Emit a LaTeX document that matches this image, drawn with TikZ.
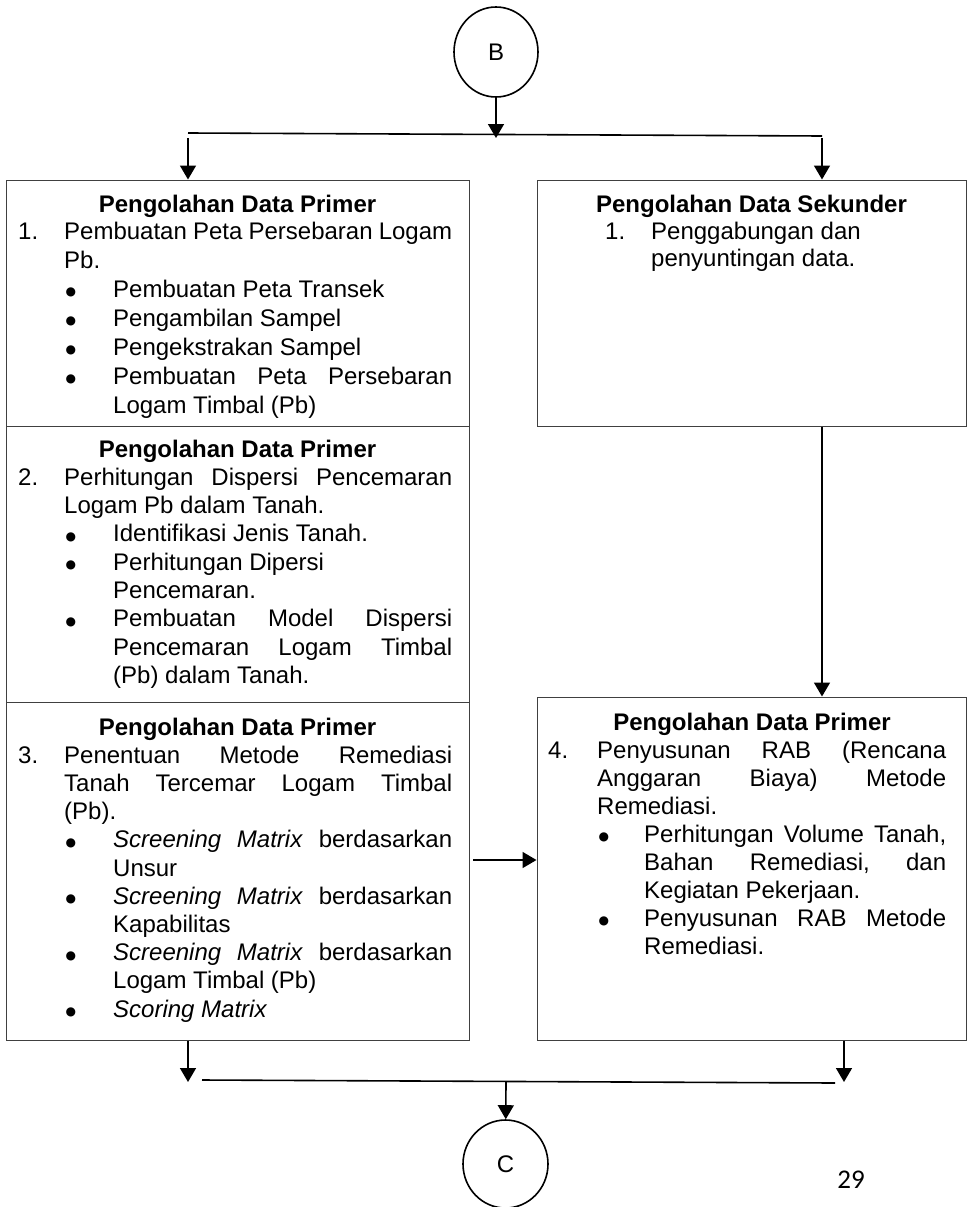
\documentclass[tikz,border=0pt]{standalone}
\usepackage{fontspec}
\setmainfont{Liberation Sans}
\newfontfamily\pagenumfont{Carlito}
\newfontfamily\symfont{DejaVu Sans}
\usetikzlibrary{arrows.meta,shapes.geometric}

% widths of the number column and of the bullet column
\newlength{\numw}
\newlength{\bulw}
\setlength{\numw}{46pt}
\setlength{\bulw}{49pt}

% justified paragraphs with stretchable word spaces and no hyphenation
\newcommand{\bodyset}[1]{\parindent=0pt\parskip=0pt\rightskip=0pt
  \parfillskip=0pt plus 1fil\hyphenpenalty=10000\exhyphenpenalty=10000
  \tolerance=10000\emergencystretch=0pt\frenchspacing
  \spaceskip=6.67pt plus 12pt minus 3pt\xspaceskip=\spaceskip
  \baselineskip=#1\relax}
\newcommand{\bul}{\hspace{1.5pt}{\symfont\fontsize{12}{14}\selectfont\raisebox{1.5pt}{●}}}
\newcommand{\numitem}[2]{\leftskip=0pt\hangindent=\numw\hangafter=1
  \noindent\rule{0pt}{20pt}\makebox[\numw][l]{#1}#2\par}
\newcommand{\bulitem}[1]{\leftskip=\numw\hangindent=\bulw\hangafter=1
  \noindent\rule{0pt}{20pt}\makebox[\bulw][l]{\bul}#1\par}

\tikzset{
  stage/.style={draw=black!75, line width=1pt, inner sep=0pt},
  connector/.style={draw=black, line width=1.6pt},
  flow/.style={connector, -{Triangle[width=16pt,length=14pt]}},
  joint/.style={ellipse, draw=black, line width=1.6pt, inner sep=0pt,
    font=\fontsize{24}{28}\selectfont},
  heading/.style={inner sep=0pt, anchor=base,
    font=\fontsize{24}{28}\selectfont\bfseries},
  body/.style={inner sep=0pt, anchor=north west, text width=#1,
    font=\fontsize{24}{28.3}\selectfont},
}

\begin{document}
\begin{tikzpicture}[x=1pt,y=-1pt]
\useasboundingbox (0,0) rectangle (972,1207);

% connector circles
\node[joint, minimum width=84pt, minimum height=90pt] (B) at (496,52) {B};
\node[joint, minimum width=85pt, minimum height=88pt] (C) at (505.5,1164) {C};

% process boxes
\node[stage, minimum width=463pt, minimum height=246pt] (L1) at (237.5,303) {};
\node[stage, minimum width=463pt, minimum height=276pt] (L2) at (237.5,564) {};
\node[stage, minimum width=463pt, minimum height=338pt] (L3) at (237.5,871) {};
\node[stage, minimum width=429pt, minimum height=246pt] (R1) at (751.5,303) {};
\node[stage, minimum width=429pt, minimum height=343pt] (R2) at (751.5,868.5) {};

% box 1
\node[heading] (h1) at (237.5,212) {Pengolahan Data Primer};
\node[body=434pt] (t1) at (18,219) {\bodyset{29pt}%
  \numitem{1.}{Pembuatan Peta Persebaran Logam\linebreak Pb.}%
  \bulitem{Pembuatan Peta Transek}%
  \bulitem{Pengambilan Sampel}%
  \bulitem{Pengekstrakan Sampel}%
  \bulitem{Pembuatan Peta Persebaran\linebreak Logam Timbal (Pb)}};

% box 2
\node[heading] (h2) at (237.5,457) {Pengolahan Data Primer};
\node[body=434pt] (t2) at (18,465) {\bodyset{28.3pt}%
  \numitem{2.}{Perhitungan Dispersi Pencemaran\linebreak Logam Pb dalam Tanah.}%
  \bulitem{Identifikasi Jenis Tanah.}%
  \bulitem{Perhitungan Dipersi\newline Pencemaran.}%
  \bulitem{Pembuatan Model Dispersi\linebreak Pencemaran Logam Timbal\linebreak (Pb) dalam Tanah.}};

% box 3
\node[heading] (h3) at (237.5,735) {Pengolahan Data Primer};
\node[body=434pt] (t3) at (18,743) {\bodyset{28.2pt}%
  \numitem{3.}{Penentuan Metode Remediasi\linebreak Tanah Tercemar Logam Timbal\linebreak (Pb).}%
  \bulitem{\textit{Screening Matrix} berdasarkan\linebreak Unsur}%
  \bulitem{\textit{Screening Matrix} berdasarkan\linebreak Kapabilitas}%
  \bulitem{\textit{Screening Matrix} berdasarkan\linebreak Logam Timbal (Pb)}%
  \bulitem{\textit{Scoring Matrix}}};

% secondary data box
\node[heading] (h4) at (751.5,212) {Pengolahan Data Sekunder};
\node[body=341pt] (t4) at (605,219) {\bodyset{27pt}%
  \numitem{1.}{Penggabungan dan\newline penyuntingan data.}};

% box 4
\node[heading] (h5) at (752,730) {Pengolahan Data Primer};
\node[body=398pt] (t5) at (548,738) {\bodyset{28pt}%
  \setlength{\numw}{49pt}\setlength{\bulw}{47pt}%
  \numitem{4.}{Penyusunan RAB (Rencana\linebreak Anggaran Biaya) Metode\linebreak Remediasi.}%
  \bulitem{Perhitungan Volume Tanah,\linebreak Bahan Remediasi, dan\linebreak Kegiatan Pekerjaan.}%
  \bulitem{Penyusunan RAB Metode\linebreak Remediasi.}};

% junction points
\coordinate (topL) at (188,133);
\coordinate (topR) at (822,136);
\coordinate (bjoin) at (496,138);
\coordinate (l1in) at (188,138);
\coordinate (r1in) at (822,138);
\coordinate (mid) at (473,860);
\coordinate (l3out) at (188,1082);
\coordinate (r2out) at (844,1082);
\coordinate (botL) at (202,1080);
\coordinate (botR) at (835,1083);
\coordinate (cin) at (506,1081);

% split below B
\draw[flow] (B) -- (bjoin);
\draw[connector] (topL) -- (topR);
\draw[flow] (l1in) -- (l1in |- L1.north);
\draw[flow] (r1in) -- (r1in |- R1.north);

% inner flows
\draw[flow] (R1.south -| r1in) -- (R2.north -| r1in);
\draw[flow] (mid) -- (mid -| R2.west);

% merge above C
\draw[flow] (L3.south -| l3out) -- (l3out);
\draw[flow] (R2.south -| r2out) -- (r2out);
\draw[connector] (botL) -- (botR);
\draw[flow] (cin) -- (C);

% page number
\node[anchor=base, inner sep=0pt, font=\pagenumfont\fontsize{27}{30}\selectfont] (pg) at (851,1188) {29};
\end{tikzpicture}
\end{document}
